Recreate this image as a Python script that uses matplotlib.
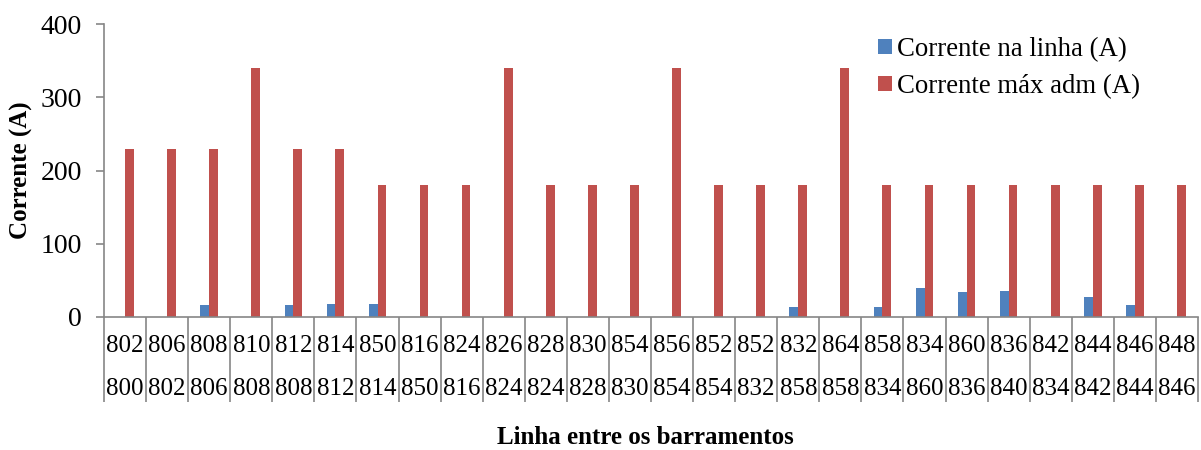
import numpy as np
import matplotlib.pyplot as plt
from matplotlib.transforms import blended_transform_factory

plt.rcParams['font.family'] = ['Liberation Serif', 'DejaVu Serif']

# barra de origem (linha de cima) e destino (linha de baixo)
bus_from = ['802', '806', '808', '810', '812', '814', '850', '816', '824', '826',
            '828', '830', '854', '856', '852', '852', '832', '864', '858', '834',
            '860', '836', '842', '844', '846', '848']
bus_to = ['800', '802', '806', '808', '808', '812', '814', '850', '816', '824',
          '824', '828', '830', '854', '854', '832', '858', '858', '834', '860',
          '836', '840', '834', '842', '844', '846']

corrente_linha = [0, 0, 17, 0, 17, 18, 18, 0, 0, 0,
                  0, 0, 0, 0, 0, 0, 14, 0, 13, 39,
                  34, 35, 0, 27, 17, 0]
corrente_max = [230, 230, 230, 340, 230, 230, 180, 180, 180, 340,
                180, 180, 180, 340, 180, 180, 180, 340, 180, 180,
                180, 180, 180, 180, 180, 180]

blue = '#4F81BD'
red = '#C0504D'
grid_gray = '#868686'

fig = plt.figure(figsize=(12.01, 4.5), dpi=100)
ax = fig.add_axes([104 / 1201, (450 - 317) / 450, (1198 - 104) / 1201, (317 - 24) / 450])

x = np.arange(len(bus_from))
w = 0.21
ax.bar(x - w / 2, corrente_linha, width=w, color=blue, label='Corrente na linha (A)')
ax.bar(x + w / 2, corrente_max, width=w, color=red, label='Corrente máx adm (A)')

ax.set_xlim(-0.5, len(x) - 0.5)
ax.set_ylim(0, 400)
ax.set_yticks([0, 100, 200, 300, 400])
ax.tick_params(axis='y', labelsize=20, length=6, color=grid_gray, width=1.2, pad=10)

# separadores das categorias como ticks longos
ax.set_xticks(np.arange(len(x) + 1) - 0.5)
ax.set_xticklabels([])
ax.tick_params(axis='x', length=61, color=grid_gray, width=1.2, direction='out')

for s in ['top', 'right']:
    ax.spines[s].set_visible(False)
for s in ['left', 'bottom']:
    ax.spines[s].set_color(grid_gray)
    ax.spines[s].set_linewidth(1.2)

trans = blended_transform_factory(ax.transData, ax.transAxes)
for i in x:
    ax.text(i, -29 / 293, bus_from[i], transform=trans, ha='center', va='center', fontsize=18)
    ax.text(i, -72 / 293, bus_to[i], transform=trans, ha='center', va='center', fontsize=18)

ax.set_ylabel('Corrente (A)', fontsize=18, fontweight='bold')
ax.yaxis.set_label_coords(-0.065, 0.5)
fig.text(645 / 1201, 1 - 437 / 450, 'Linha entre os barramentos', ha='center', va='center',
         fontsize=18, fontweight='bold')

ax.legend(loc='upper left', bbox_to_anchor=(854 / 1201, 1 - 13 / 450),
          bbox_transform=fig.transFigure, frameon=False, fontsize=19.3,
          handlelength=0.5, handleheight=0.5, handletextpad=0.22, labelspacing=0.45)

fig.savefig('out.png', dpi=100)
